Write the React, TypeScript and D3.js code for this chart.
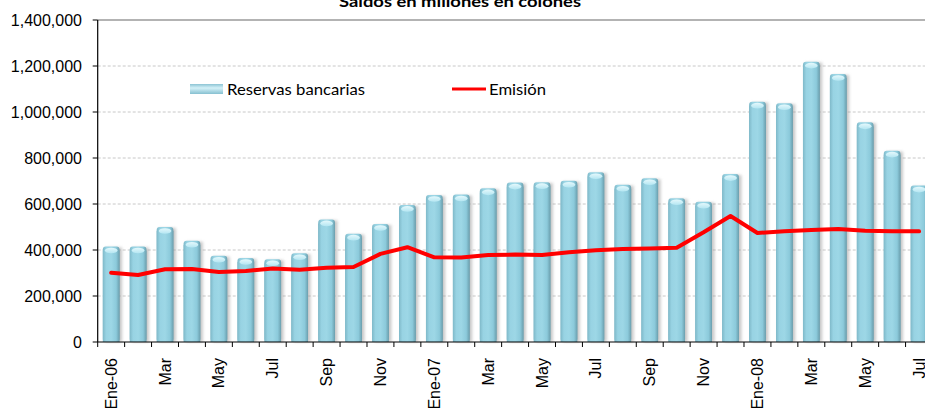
import React from 'react';
import * as d3 from 'd3';

const categories = [
  'Ene-06','Feb-06','Mar-06','Abr-06','May-06','Jun-06','Jul-06','Ago-06','Sep-06','Oct-06','Nov-06','Dic-06',
  'Ene-07','Feb-07','Mar-07','Abr-07','May-07','Jun-07','Jul-07','Ago-07','Sep-07','Oct-07','Nov-07','Dic-07',
  'Ene-08','Feb-08','Mar-08','Abr-08','May-08','Jun-08','Jul-08'
];
const tickLabels = [
  'Ene-06','','Mar','','May','','Jul','','Sep','','Nov','',
  'Ene-07','','Mar','','May','','Jul','','Sep','','Nov','',
  'Ene-08','','Mar','','May','','Jul'
];
const reservas = [
  415000, 415000, 500000, 440000, 375000, 365000, 360000, 386000, 533000, 471000, 513000, 596000,
  639000, 641000, 668000, 693000, 695000, 701000, 738000, 684000, 712000, 625000, 610000, 730000,
  1045000, 1038000, 1219000, 1165000, 955000, 832000, 680000
];
const emision = [
  301000, 291000, 316000, 317000, 304000, 309000, 320000, 314000, 323000, 326000, 383000, 412000,
  368000, 367000, 378000, 380000, 378000, 390000, 399000, 404000, 407000, 410000, 477000, 548000,
  474000, 482000, 487000, 491000, 484000, 482000, 481000
];
const yTicks = [0, 200000, 400000, 600000, 800000, 1000000, 1200000, 1400000];
const title = 'Saldos en millones en colones';
const seriesNames = ['Reservas bancarias', 'Emisión'];

export default function App() {
  const W = 925, H = 408;
  const left = 97.7, right = 932.5, top = 20, bottom = 342;
  const x = d3.scaleBand<string>().domain(categories).range([left, right]).padding(0);
  const y = d3.scaleLinear().domain([0, 1400000]).range([bottom, top]);
  const step = x.step();
  const bw = step * 0.62;
  const fmt = d3.format(',');
  const cx = (c: string) => (x(c) as number) + step / 2;
  const line = d3.line<number>()
    .x((_, i) => cx(categories[i]))
    .y((d) => y(d));
  const calib = "Lato, 'Open Sans', sans-serif";

  return (
    <svg width={W} height={H} style={{ position: 'absolute', left: 0, top: 0, background: '#fff' }}>
      <defs>
        <linearGradient id="cyl" x1="0" x2="1" y1="0" y2="0">
          <stop offset="0" stopColor="#7fb9c9" />
          <stop offset="0.2" stopColor="#98d3e3" />
          <stop offset="0.5" stopColor="#9dd7e6" />
          <stop offset="0.8" stopColor="#8ccadb" />
          <stop offset="1" stopColor="#6b9fae" />
        </linearGradient>
        <linearGradient id="cap" x1="0" x2="0" y1="0" y2="1">
          <stop offset="0" stopColor="#e4f8fc" />
          <stop offset="1" stopColor="#b4e6f2" />
        </linearGradient>
        <linearGradient id="leg" x1="0" x2="0" y1="0" y2="1">
          <stop offset="0" stopColor="#8cc4d4" />
          <stop offset="0.4" stopColor="#d4f1f8" />
          <stop offset="1" stopColor="#86c0d1" />
        </linearGradient>
        <filter id="blur" x="-50%" y="-10%" width="200%" height="120%">
          <feGaussianBlur stdDeviation="1.5" />
        </filter>
      </defs>

      {/* gridlines */}
      {yTicks.slice(1, -1).map((t) => (
        <line key={t} x1={left} x2={W} y1={y(t)} y2={y(t)} stroke="#c8c8c8" strokeWidth={1} strokeDasharray="3,2" />
      ))}
      <line x1={left} x2={W} y1={y(1400000)} y2={y(1400000)} stroke="#9a9a9a" strokeWidth={1.5} />

      {/* bars */}
      {categories.map((c, i) => {
        const bx = cx(c) - bw / 2;
        const by = y(reservas[i]);
        const h = bottom - by;
        return (
          <g key={c}>
            <rect x={bx + 2.5} y={by + 1} width={bw} height={h - 1} fill="#9a9a9a" opacity={0.55} filter="url(#blur)" />
            <rect x={bx} y={by} width={bw} height={h} rx={3} ry={3} fill="url(#cyl)" />
            <rect x={bx} y={by + 4} width={bw} height={h - 4} fill="url(#cyl)" />
            <ellipse cx={bx + bw / 2} cy={by + 4} rx={bw / 2 - 2} ry={2.8} fill="url(#cap)" />
          </g>
        );
      })}

      {/* line */}
      <path d={line(emision) as string} fill="none" stroke="#ff0000" strokeWidth={4} strokeLinejoin="round" strokeLinecap="round" />

      {/* axes */}
      <line x1={left} x2={left} y1={top} y2={bottom} stroke="#000" strokeWidth={1.2} />
      <line x1={left} x2={W} y1={bottom} y2={bottom} stroke="#000" strokeWidth={1.2} />
      {yTicks.map((t) => (
        <g key={t}>
          <line x1={left - 5} x2={left} y1={y(t)} y2={y(t)} stroke="#000" strokeWidth={1} />
          <text x={82} y={y(t)} dy="0.35em" textAnchor="end" fontFamily="'Liberation Sans', Arial, sans-serif" fontSize={16} fill="#000">{fmt(t)}</text>
        </g>
      ))}
      {categories.map((c) => (
        <line key={'t' + c} x1={x(c) as number} x2={x(c) as number} y1={bottom} y2={bottom + 5} stroke="#000" strokeWidth={1} />
      ))}
      {categories.map((c, i) => tickLabels[i] ? (
        <text key={'l' + c} transform={`translate(${cx(c)},358) rotate(-90)`} textAnchor="end" dy="0.35em"
          fontFamily="'Liberation Sans', Arial, sans-serif" fontSize={16} fill="#000">{tickLabels[i]}</text>
      ) : null)}

      {/* title */}
      <text x={339} y={7} textLength={242} lengthAdjust="spacingAndGlyphs" fontFamily={calib} fontWeight="bold" fontSize={16} fill="#000">{title}</text>

      {/* legend */}
      <rect x={190} y={84} width={33} height={10} fill="url(#leg)" />
      <text x={227} y={95} textLength={138} lengthAdjust="spacingAndGlyphs" fontFamily={calib} fontSize={16} fill="#000">{seriesNames[0]}</text>
      <line x1={452} x2={486} y1={89} y2={89} stroke="#ff0000" strokeWidth={3} />
      <text x={489} y={95} textLength={57} lengthAdjust="spacingAndGlyphs" fontFamily={calib} fontSize={16} fill="#000">{seriesNames[1]}</text>
    </svg>
  );
}
